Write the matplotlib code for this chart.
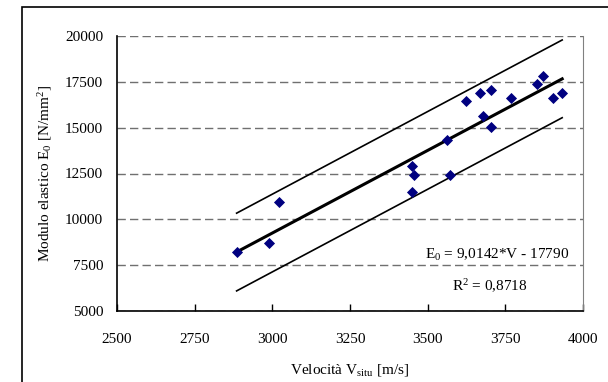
import numpy as np
import matplotlib
matplotlib.use('Agg')
import matplotlib.pyplot as plt
from matplotlib.patches import Rectangle

# data
velocity = [2885, 2988, 3022, 3450, 3455, 3450, 3561, 3571, 3622, 3669,
            3677, 3704, 3703, 3768, 3851, 3872, 3902, 3933]
modulus = [8200, 8710, 10960, 12890, 12440, 11510, 14330, 12440, 16470, 16890,
           15650, 17040, 15050, 16600, 17400, 17840, 16600, 16890]
slope = 9.0142
intercept = -17790
r2 = 0.8718
band = 2120

x_ticks = [2500, 2750, 3000, 3250, 3500, 3750, 4000]
y_ticks = [5000, 7500, 10000, 12500, 15000, 17500, 20000]

plt.rcParams['font.family'] = ['Liberation Serif', 'DejaVu Serif']
plt.rcParams['mathtext.fontset'] = 'custom'
plt.rcParams['mathtext.rm'] = 'Liberation Serif'
plt.rcParams['font.size'] = 11

fig = plt.figure(figsize=(6.08, 3.82), dpi=100)
fig.add_artist(Rectangle((22 / 608, -0.1), 1.2, 1.1 - 7 / 382, transform=fig.transFigure,
                         fill=False, edgecolor='black', linewidth=1.2))
ax = fig.add_axes([117 / 608, 1 - 311 / 382, 466 / 608, 275 / 382])

xs = np.array([min(velocity), max(velocity)])
fit = slope * xs + intercept
ax.plot(xs, fit, color='black', linewidth=2.2, zorder=3)
ax.plot(xs, fit + band, color='black', linewidth=1.2, zorder=3)
ax.plot(xs, fit - band, color='black', linewidth=1.2, zorder=3)
ax.scatter(velocity, modulus, marker='D', s=32, color='#000080', zorder=4, linewidths=0)

ax.set_xlim(2500, 4000)
ax.set_ylim(5000, 20000)
ax.set_xticks(x_ticks)
ax.set_yticks(y_ticks)
ax.tick_params(axis='x', direction='in', length=5, pad=16, width=1)
ax.tick_params(axis='y', length=0, pad=10)
ax.yaxis.grid(True, color='#707070', linestyle=(0, (6, 3)), linewidth=1)
ax.set_axisbelow(True)

ax.spines['top'].set_visible(False)
ax.spines['right'].set_color('#808080')
ax.spines['left'].set_linewidth(1.2)
ax.spines['bottom'].set_linewidth(1.2)

ax.set_xlabel(r'Velocità $\mathregular{V_{situ}}$ [m/s]', labelpad=11)
ax.set_ylabel(r'Modulo elastico $\mathregular{E_0}$ [N/mm$\mathregular{^2}$]', labelpad=8)

ax.text(0.97, 0.205, r'$\mathregular{E_0}$ = 9,0142*V - 17790', transform=ax.transAxes,
        ha='right', va='center')
ax.text(0.80, 0.09, r'R$\mathregular{^2}$ = 0,8718', transform=ax.transAxes,
        ha='center', va='center')

fig.savefig('out.png', dpi=100)
